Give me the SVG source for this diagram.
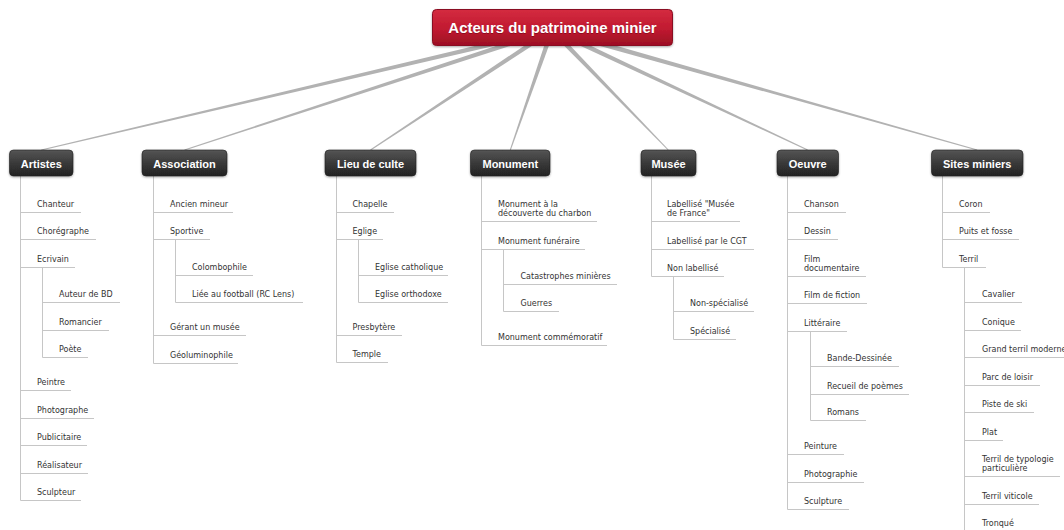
<svg xmlns="http://www.w3.org/2000/svg" width="1064" height="530" viewBox="0 0 1064 530">
<style>
.leaf{font-family:"DejaVu Sans",Verdana,sans-serif;font-size:8px;fill:#333}
.l1t{font-family:"Liberation Sans",Arial,sans-serif;font-weight:bold;font-size:11px;fill:#fff;text-anchor:middle}
.rt{font-family:"Liberation Sans",Arial,sans-serif;font-weight:bold;font-size:15px;text-anchor:middle}
.ul{stroke:#c6c6c6;stroke-width:1;fill:none}
.vl{stroke:#c6c6c6;stroke-width:1;fill:none}
.conn{fill:#b2b2b2}
.l1box{fill:url(#gDark);stroke:#1e1e1e;stroke-width:0.6;filter:url(#sh)}
</style>
<defs>
<linearGradient id="gDark" x1="0" y1="0" x2="0" y2="1">
<stop offset="0" stop-color="#555"/>
<stop offset="0.5" stop-color="#3a3a3a"/>
<stop offset="1" stop-color="#222"/>
</linearGradient>
<linearGradient id="gRed" x1="0" y1="0" x2="0" y2="1">
<stop offset="0" stop-color="#d42b40"/>
<stop offset="0.55" stop-color="#c01a30"/>
<stop offset="1" stop-color="#9c0f24"/>
</linearGradient>
<filter id="sh" x="-10%" y="-20%" width="120%" height="150%">
<feDropShadow dx="0" dy="1" stdDeviation="1" flood-color="#000" flood-opacity="0.35"/>
</filter>
</defs>
<rect width="1064" height="530" fill="#fff"/>

<g id="connectors">
<polygon class="conn" points="551.43,27.57 41.19,149.51 41.41,150.49 552.57,32.43"/>
<polygon class="conn" points="551.22,27.62 184.34,149.52 184.66,150.48 552.78,32.38"/>
<polygon class="conn" points="550.62,27.91 370.22,149.58 370.78,150.42 553.38,32.09"/>
<polygon class="conn" points="549.64,29.18 509.83,149.84 510.77,150.16 554.36,30.82"/>
<polygon class="conn" points="550.20,31.74 667.94,150.35 668.66,149.65 553.80,28.26"/>
<polygon class="conn" points="550.94,32.26 807.49,150.45 807.91,149.55 553.06,27.74"/>
<polygon class="conn" points="551.32,32.41 977.06,150.48 977.34,149.52 552.68,27.59"/>
<path class="vl" d="M20.5 176V500.5M42.5 267.5V357.5"/>
<path class="vl" d="M153.5 176V363.5M175.5 239.5V302.5"/>
<path class="vl" d="M336.5 176V362.5M358.5 239.5V302.5"/>
<path class="vl" d="M481.5 176V345.5M503.5 249.5V311.5"/>
<path class="vl" d="M651.5 176V276.5M673.5 276.5V339.5"/>
<path class="vl" d="M787.5 176V509.5M810.5 331.5V420.5"/>
<path class="vl" d="M942.5 176V267.5M964.5 267.5V540"/>
</g>

<g id="root">
<rect x="432.5" y="9.5" width="240" height="36" rx="4" fill="url(#gRed)" stroke="#8a0e20" stroke-width="1" filter="url(#sh)"/>
<text class="rt" x="552.5" y="34" fill="#6e0614" opacity="0.6">Acteurs du patrimoine minier</text>
<text class="rt" x="552.5" y="33" fill="#fff">Acteurs du patrimoine minier</text>
</g>

<g id="artistes"><rect class="l1box" x="9.5" y="150" width="63.5" height="26" rx="4"/><text class="l1t" x="41.3" y="167.5">Artistes</text></g>
<g id="association"><rect class="l1box" x="142" y="150" width="85" height="26" rx="4"/><text class="l1t" x="184.5" y="167.5">Association</text></g>
<g id="lieu-de-culte"><rect class="l1box" x="325" y="150" width="91" height="26" rx="4"/><text class="l1t" x="370.5" y="167.5">Lieu de culte</text></g>
<g id="monument"><rect class="l1box" x="470.5" y="150" width="79.5" height="26" rx="4"/><text class="l1t" x="510.3" y="167.5">Monument</text></g>
<g id="musee"><rect class="l1box" x="641" y="150" width="55" height="26" rx="4"/><text class="l1t" x="668.5" y="167.5">Musée</text></g>
<g id="oeuvre"><rect class="l1box" x="777" y="150" width="61.5" height="26" rx="4"/><text class="l1t" x="807.7" y="167.5">Oeuvre</text></g>
<g id="sites-miniers"><rect class="l1box" x="931.5" y="150" width="91.5" height="26" rx="4"/><text class="l1t" x="977.2" y="167.5">Sites miniers</text></g>

<!-- Artistes leaves -->
<g id="chanteur"><path class="ul" d="M20.5 212.5H81"/><text class="leaf" x="37" y="207">Chanteur</text></g>
<g id="choregraphe"><path class="ul" d="M20.5 239.5H96"/><text class="leaf" x="37" y="234">Chorégraphe</text></g>
<g id="ecrivain"><path class="ul" d="M20.5 267.5H75"/><text class="leaf" x="37" y="262">Ecrivain</text></g>
<g id="auteur-bd"><path class="ul" d="M42.5 302.5H120"/><text class="leaf" x="59" y="297">Auteur de BD</text></g>
<g id="romancier"><path class="ul" d="M42.5 330.5H109"/><text class="leaf" x="59" y="325">Romancier</text></g>
<g id="poete"><path class="ul" d="M42.5 357.5H88"/><text class="leaf" x="59" y="352">Poète</text></g>
<g id="peintre"><path class="ul" d="M20.5 390.5H71"/><text class="leaf" x="37" y="385">Peintre</text></g>
<g id="photographe"><path class="ul" d="M20.5 418.5H94"/><text class="leaf" x="37" y="413">Photographe</text></g>
<g id="publicitaire"><path class="ul" d="M20.5 445.5H87"/><text class="leaf" x="37" y="440">Publicitaire</text></g>
<g id="realisateur"><path class="ul" d="M20.5 473.5H88"/><text class="leaf" x="37" y="468">Réalisateur</text></g>
<g id="sculpteur"><path class="ul" d="M20.5 500.5H81"/><text class="leaf" x="37" y="495">Sculpteur</text></g>

<!-- Association leaves -->
<g id="ancien-mineur"><path class="ul" d="M153.5 212.5H233"/><text class="leaf" x="170" y="207">Ancien mineur</text></g>
<g id="sportive"><path class="ul" d="M153.5 239.5H210"/><text class="leaf" x="170" y="234">Sportive</text></g>
<g id="colombophile"><path class="ul" d="M175.5 275.5H253"/><text class="leaf" x="192" y="270">Colombophile</text></g>
<g id="football"><path class="ul" d="M175.5 302.5H303"/><text class="leaf" x="192" y="297">Liée au football (RC Lens)</text></g>
<g id="gerant-musee"><path class="ul" d="M153.5 335.5H246"/><text class="leaf" x="170" y="330">Gérant un musée</text></g>
<g id="geoluminophile"><path class="ul" d="M153.5 363.5H238"/><text class="leaf" x="170" y="358">Géoluminophile</text></g>

<!-- Lieu de culte leaves -->
<g id="chapelle"><path class="ul" d="M336.5 212.5H394"/><text class="leaf" x="352.5" y="207">Chapelle</text></g>
<g id="eglige"><path class="ul" d="M336.5 239.5H383"/><text class="leaf" x="352.5" y="234">Eglige</text></g>
<g id="eglise-catholique"><path class="ul" d="M358.5 275.5H448"/><text class="leaf" x="375" y="270">Eglise catholique</text></g>
<g id="eglise-orthodoxe"><path class="ul" d="M358.5 302.5H448"/><text class="leaf" x="375" y="297">Eglise orthodoxe</text></g>
<g id="presbytere"><path class="ul" d="M336.5 335.5H402"/><text class="leaf" x="352.5" y="330">Presbytère</text></g>
<g id="temple"><path class="ul" d="M336.5 362.5H388"/><text class="leaf" x="352.5" y="357">Temple</text></g>

<!-- Monument leaves -->
<g id="decouverte"><path class="ul" d="M481.5 221.5H597"/><text class="leaf" x="498" y="207.2">Monument à la</text><text class="leaf" x="498" y="216">découverte du charbon</text></g>
<g id="funeraire"><path class="ul" d="M481.5 249.5H585"/><text class="leaf" x="498" y="244">Monument funéraire</text></g>
<g id="catastrophes"><path class="ul" d="M503.5 284.5H617"/><text class="leaf" x="520.5" y="279">Catastrophes minières</text></g>
<g id="guerres"><path class="ul" d="M503.5 311.5H559"/><text class="leaf" x="520.5" y="306">Guerres</text></g>
<g id="commemoratif"><path class="ul" d="M481.5 345.5H607"/><text class="leaf" x="498" y="340">Monument commémoratif</text></g>

<!-- Musée leaves -->
<g id="musee-de-france"><path class="ul" d="M651.5 221.5H740"/><text class="leaf" x="667" y="207.2">Labellisé "Musée</text><text class="leaf" x="667" y="216">de France"</text></g>
<g id="cgt"><path class="ul" d="M651.5 249.5H754"/><text class="leaf" x="667" y="244">Labellisé par le CGT</text></g>
<g id="non-labellise"><path class="ul" d="M651.5 276.5H724"/><text class="leaf" x="667" y="271">Non labellisé</text></g>
<g id="non-specialise"><path class="ul" d="M673.5 311.5H754"/><text class="leaf" x="690" y="306">Non-spécialisé</text></g>
<g id="specialise"><path class="ul" d="M673.5 339.5H736"/><text class="leaf" x="690" y="334">Spécialisé</text></g>

<!-- Oeuvre leaves -->
<g id="chanson"><path class="ul" d="M787.5 212.5H846"/><text class="leaf" x="804" y="207">Chanson</text></g>
<g id="dessin"><path class="ul" d="M787.5 239.5H838"/><text class="leaf" x="804" y="234">Dessin</text></g>
<g id="film-doc"><path class="ul" d="M787.5 276.5H866"/><text class="leaf" x="804" y="262.2">Film</text><text class="leaf" x="804" y="271">documentaire</text></g>
<g id="film-fiction"><path class="ul" d="M787.5 303.5H867"/><text class="leaf" x="804" y="298">Film de fiction</text></g>
<g id="litteraire"><path class="ul" d="M787.5 331.5H847"/><text class="leaf" x="804" y="326">Littéraire</text></g>
<g id="bd"><path class="ul" d="M810.5 366.5H899"/><text class="leaf" x="827" y="361">Bande-Dessinée</text></g>
<g id="recueil"><path class="ul" d="M810.5 394.5H909"/><text class="leaf" x="827" y="389">Recueil de poèmes</text></g>
<g id="romans"><path class="ul" d="M810.5 420.5H866"/><text class="leaf" x="827" y="415">Romans</text></g>
<g id="peinture"><path class="ul" d="M787.5 454.5H844"/><text class="leaf" x="804" y="449">Peinture</text></g>
<g id="photographie"><path class="ul" d="M787.5 482.5H864"/><text class="leaf" x="804" y="477">Photographie</text></g>
<g id="sculpture"><path class="ul" d="M787.5 509.5H849"/><text class="leaf" x="804" y="504">Sculpture</text></g>

<!-- Sites miniers leaves -->
<g id="coron"><path class="ul" d="M942.5 212.5H990"/><text class="leaf" x="959" y="207">Coron</text></g>
<g id="puits"><path class="ul" d="M942.5 239.5H1019"/><text class="leaf" x="959" y="234">Puits et fosse</text></g>
<g id="terril"><path class="ul" d="M942.5 267.5H986"/><text class="leaf" x="959" y="262">Terril</text></g>
<g id="cavalier"><path class="ul" d="M964.5 302.5H1022"/><text class="leaf" x="982" y="297">Cavalier</text></g>
<g id="conique"><path class="ul" d="M964.5 330.5H1021"/><text class="leaf" x="982" y="325">Conique</text></g>
<g id="grand-terril"><path class="ul" d="M964.5 357.5H1075"/><text class="leaf" x="982" y="352">Grand terril moderne</text></g>
<g id="parc-loisir"><path class="ul" d="M964.5 385.5H1040"/><text class="leaf" x="982" y="380">Parc de loisir</text></g>
<g id="piste-ski"><path class="ul" d="M964.5 412.5H1034"/><text class="leaf" x="982" y="407">Piste de ski</text></g>
<g id="plat"><path class="ul" d="M964.5 440.5H1003"/><text class="leaf" x="982" y="435">Plat</text></g>
<g id="typologie"><path class="ul" d="M964.5 476.5H1060"/><text class="leaf" x="982" y="462.2">Terril de typologie</text><text class="leaf" x="982" y="471">particulière</text></g>
<g id="viticole"><path class="ul" d="M964.5 504.5H1039"/><text class="leaf" x="982" y="499">Terril viticole</text></g>
<g id="tronque"><path class="ul" d="M964.5 531.5H1022"/><text class="leaf" x="982" y="525.5">Tronqué</text></g>
</svg>
